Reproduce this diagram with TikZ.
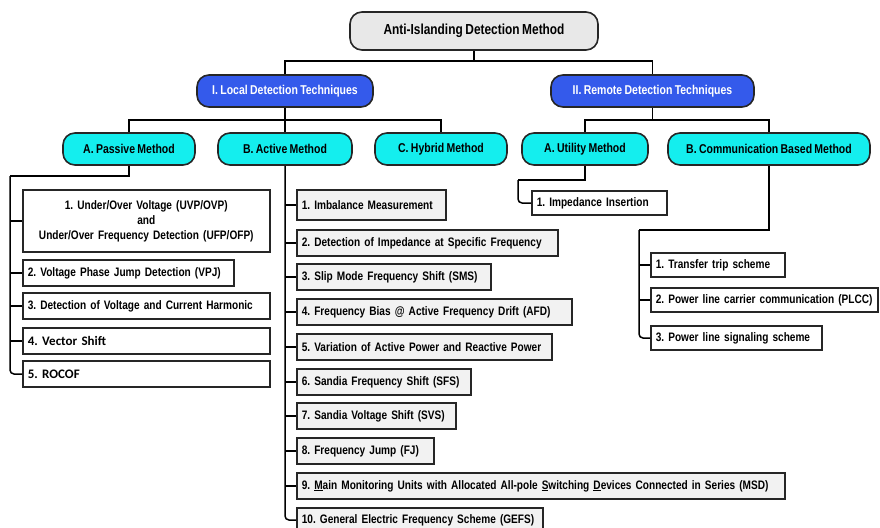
\documentclass[tikz,border=0pt]{standalone}
\usepackage{fontspec}
\setmainfont{Liberation Sans}
\newfontfamily\narrowfont[FakeStretch=0.82, WordSpace=0.8]{Liberation Sans}
\newfontfamily\calfont{Carlito}
\usetikzlibrary{positioning}
\definecolor{topgray}{RGB}{232,232,232}
\definecolor{techblue}{RGB}{52,90,235}
\definecolor{methcyan}{RGB}{20,238,238}
\definecolor{leafgray}{RGB}{242,242,242}
\frenchspacing
\tikzset{
  box/.style={draw=black!85, line width=1.6pt, inner sep=5pt,
    font=\narrowfont\bfseries\fontsize{12.3}{15}\selectfont},
  head/.style={box, rounded corners=12pt, minimum height=32pt,
    font=\narrowfont\bfseries\fontsize{12.8}{15}\selectfont},
  topbox/.style={head, fill=topgray, minimum height=38pt,
    font=\narrowfont\bfseries\fontsize{14.5}{16}\selectfont},
  tech/.style={head, fill=techblue, text=white},
  meth/.style={head, fill=methcyan},
  leaf/.style={box, anchor=west, minimum height=26pt, align=left, fill=white,
    execute at begin node={\leavevmode\hbox\bgroup}, execute at end node={\egroup}},
  actleaf/.style={leaf, fill=leafgray},
  calleaf/.style={leaf, font=\calfont\bfseries\fontsize{13}{15}\selectfont},
  link/.style={line width=1.5pt, black}
}
\begin{document}
\begin{tikzpicture}[x=1pt, y=-1pt]
  \useasboundingbox (0,0) rectangle (880,527);
  \node[topbox, minimum width=248pt] (aid) at (474,31) {Anti-Islanding Detection Method};
  \node[tech, minimum width=176pt] (loc) at (285,91) {I. Local Detection Techniques};
  \node[tech, minimum width=203pt] (rem) at (652.5,91) {II. Remote Detection Techniques};
  \node[meth, minimum width=132pt] (pas) at (129,149) {A. Passive Method};
  \node[meth, minimum width=134pt] (act) at (285,149) {B. Active Method};
  \node[meth, minimum width=132pt] (hyb) at (441,149) {C. Hybrid Method};
  \node[meth, minimum width=126pt] (uti) at (585,149) {A. Utility Method};
  \node[meth, minimum width=202pt] (com) at (769,149) {B. Communication Based Method};

  \node[box, anchor=west, fill=white, text width=237pt, align=center, minimum height=62pt] (p1) at (22,221)
    {1. Under/Over Voltage (UVP/OVP)\\and\\Under/Over Frequency Detection (UFP/OFP)};
  \node[leaf, text width=201pt] (p2) at (22,273) {2. Voltage Phase Jump Detection (VPJ)};
  \node[leaf, text width=237pt] (p3) at (22,306) {3. Detection of Voltage and Current Harmonic};
  \node[calleaf, text width=237pt] (p4) at (22,341) {4. Vector Shift};
  \node[calleaf, text width=237pt] (p5) at (22,374) {5. ROCOF};

  \node[actleaf, text width=139pt, minimum height=30pt] (a1) at (296,205) {1. Imbalance Measurement};
  \node[actleaf, text width=251pt] (a2) at (296,243) {2. Detection of Impedance at Specific Frequency};
  \node[actleaf, text width=184pt] (a3) at (296,277) {3. Slip Mode Frequency Shift (SMS)};
  \node[actleaf, text width=265pt] (a4) at (296,312) {4. Frequency Bias @ Active Frequency Drift (AFD)};
  \node[actleaf, text width=245pt] (a5) at (296,347) {5. Variation of Active Power and Reactive Power};
  \node[actleaf, text width=164pt] (a6) at (296,382) {6. Sandia Frequency Shift (SFS)};
  \node[actleaf, text width=149pt] (a7) at (296,416) {7. Sandia Voltage Shift (SVS)};
  \node[actleaf, text width=127pt] (a8) at (296,451) {8. Frequency Jump (FJ)};
  \node[actleaf, text width=478pt] (a9) at (296,486)
    {9. \underline{M}ain Monitoring Units with Allocated All-pole \underline{S}witching \underline{D}evices Connected in Series (MSD)};
  \node[actleaf, text width=236pt, minimum height=24pt] (a10) at (296,520) {10. General Electric Frequency Scheme (GEFS)};

  \node[leaf, text width=125pt, minimum height=24pt] (u1) at (531,203) {1. Impedance Insertion};
  \node[leaf, text width=124pt, minimum height=24pt] (c1) at (650,265) {1. Transfer trip scheme};
  \node[leaf, text width=217pt, minimum height=24pt] (c2) at (650,300) {2. Power line carrier communication (PLCC)};
  \node[leaf, text width=161pt, minimum height=24pt] (c3) at (650,338) {3. Power line signaling scheme};

  \draw[link] (aid.south) -- ++(0,10) coordinate (j0);
  \draw[link] (j0) -| (loc.north);
  \draw[link] (j0) -| (rem.north);
  \draw[link] (loc.south) -- ++(0,12) coordinate (j1);
  \draw[link] (j1) -| (pas.north);
  \draw[link] (j1) -- (act.north);
  \draw[link] (j1) -| (hyb.north);
  \draw[link] (rem.south) -- ++(0,12) coordinate (j2);
  \draw[link] (j2) -| (uti.north);
  \draw[link] (j2) -| (com.north);

  \coordinate (pbus) at (10,176);
  \draw[link] (pas.south) |- (pbus);
  \draw[link, rounded corners=4pt] (pbus) |- (p5.west);
  \foreach \n in {p1,p2,p3,p4}
    \draw[link] (pbus |- \n.west) -- (\n.west);

  \draw[link, rounded corners=4pt] (act.south) |- (a10.west);
  \foreach \n in {a1,a2,a3,a4,a5,a6,a7,a8,a9}
    \draw[link] (act.south |- \n.west) -- (\n.west);

  \coordinate (ubus) at (518,180);
  \draw[link] (uti.south) |- (ubus);
  \draw[link, rounded corners=4pt] (ubus) |- (u1.west);

  \coordinate (cbus) at (639,230);
  \draw[link] (com.south) |- (cbus);
  \draw[link, rounded corners=4pt] (cbus) |- (c3.west);
  \foreach \n in {c1,c2}
    \draw[link] (cbus |- \n.west) -- (\n.west);
\end{tikzpicture}
\end{document}
